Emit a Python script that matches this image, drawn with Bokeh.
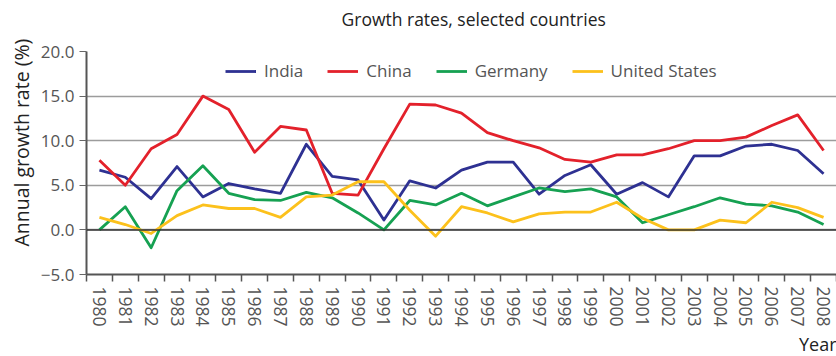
from bokeh.plotting import figure
from bokeh.models import (FixedTicker, CustomJSTickFormatter, Span, Legend, LegendItem,
                          Title, Range1d, BasicTickFormatter)
from bokeh.embed import file_html
from bokeh.resources import INLINE

years = list(range(1980, 2009))

india = [6.7, 5.9, 3.5, 7.1, 3.7, 5.2, 4.6, 4.1, 9.6, 6.0, 5.6, 1.1, 5.5, 4.7, 6.7,
         7.6, 7.6, 4.0, 6.1, 7.3, 4.0, 5.3, 3.7, 8.3, 8.3, 9.4, 9.6, 8.9, 6.3]
china = [7.8, 5.0, 9.1, 10.7, 15.0, 13.5, 8.7, 11.6, 11.2, 4.1, 3.9, 9.1, 14.1, 14.0, 13.1,
         10.9, 10.0, 9.2, 7.9, 7.6, 8.4, 8.4, 9.1, 10.0, 10.0, 10.4, 11.7, 12.9, 8.9]
germany = [0.0, 2.6, -2.0, 4.4, 7.2, 4.1, 3.4, 3.3, 4.2, 3.6, 1.9, 0.0, 3.3, 2.8, 4.1,
           2.7, 3.7, 4.7, 4.3, 4.6, 3.7, 0.8, 1.7, 2.6, 3.6, 2.9, 2.7, 2.0, 0.6]
usa = [1.4, 0.6, -0.4, 1.6, 2.8, 2.4, 2.4, 1.4, 3.7, 3.9, 5.4, 5.4, 2.2, -0.7, 2.6,
       1.9, 0.9, 1.8, 2.0, 2.0, 3.1, 1.3, 0.0, 0.0, 1.1, 0.8, 3.1, 2.5, 1.4]

series_names = ["India", "China", "Germany", "United States"]
series_values = [india, china, germany, usa]
series_colors = ["#2e3192", "#e3212b", "#16a152", "#fcc11c"]

y_ticks = [-5, 0, 5, 10, 15, 20]

FONT = "Open Sans"
GRAY = "#555555"
DARK = "#222222"

p = figure(width=836, height=356, output_backend="svg", toolbar_location=None,
           x_range=Range1d(years[0] - 0.5, years[-1] + 0.5),
           y_range=Range1d(y_ticks[0], y_ticks[-1]),
           min_border_left=86, min_border_right=0, min_border_top=51, min_border_bottom=82)
p.outline_line_color = None
p.background_fill_color = "white"
p.border_fill_color = "white"

p.title.text = "Growth rates, selected countries"
p.title.align = "left"
p.title.offset = 255
p.title.vertical_align = "bottom"
p.title.text_font = FONT
p.title.text_font_size = "17.5px"
p.title.text_font_style = "normal"
p.title.text_color = DARK
p.title.standoff = 0

# blank spacer between the frame and the title
spacer = Title(text=" ", text_font_size="10px", standoff=8)
p.add_layout(spacer, "above")

renderers = []
for name, vals, col in zip(series_names, series_values, series_colors):
    r = p.line(years, vals, line_color=col, line_width=2.8, line_join="round")
    renderers.append((name, r))

# grid
p.xgrid.grid_line_color = None
p.ygrid.ticker = FixedTicker(ticks=y_ticks)
p.ygrid.grid_line_color = "#9c9c9c"
p.ygrid.grid_line_width = 1.5

zero = Span(location=0, dimension="width", line_color="#333333", line_width=1.5)
p.add_layout(zero)

# y axis
ya = p.yaxis[0]
ya.ticker = FixedTicker(ticks=y_ticks)
ya.formatter = CustomJSTickFormatter(code="return (tick < 0 ? '\u2212' : '') + Math.abs(tick).toFixed(1);")
ya.major_label_text_font = FONT
ya.major_label_text_font_size = "17px"
ya.major_label_text_color = GRAY
ya.major_tick_out = 7
ya.major_tick_in = 0
ya.major_label_standoff = 5
ya.minor_tick_line_color = None
ya.axis_line_color = "#555555"
ya.axis_line_width = 2
ya.major_tick_line_color = "#666666"
ya.major_tick_line_width = 1.2

ylabel = Title(text="Annual growth rate (%)", align="left", offset=28,
               text_font=FONT, text_font_size="19.5px", text_font_style="normal",
               text_color=DARK, standoff=5)
p.add_layout(ylabel, "left")

# x axis
xa = p.xaxis[0]
xa.ticker = FixedTicker(ticks=years, minor_ticks=[y - 0.5 for y in years] + [years[-1] + 0.5])
xa.formatter = BasicTickFormatter(use_scientific=False)
xa.major_label_orientation = "vertical"
xa.major_label_text_font = FONT
xa.major_label_text_font_size = "17.5px"
xa.major_label_text_color = GRAY
xa.major_tick_out = 7
xa.major_tick_in = 0
xa.major_tick_line_color = None
xa.major_label_standoff = 5
xa.minor_tick_out = 7
xa.minor_tick_in = 0
xa.minor_tick_line_color = "#555555"
xa.minor_tick_line_width = 1.5
xa.axis_line_color = "#555555"
xa.axis_line_width = 2

year_title = Title(text="Year", align="right", text_font=FONT, text_font_size="18px",
                   text_font_style="normal", text_color=DARK, standoff=0)
p.add_layout(year_title, "below")

legend = Legend(items=[LegendItem(label=n, renderers=[r]) for n, r in renderers],
                orientation="horizontal", location=(139, 192),
                border_line_color=None, background_fill_alpha=0,
                label_text_font=FONT, label_text_font_size="17px", label_text_color=GRAY,
                glyph_width=31, glyph_height=22, label_height=22, label_standoff=8, spacing=24,
                padding=2, margin=0)
p.add_layout(legend, "center")

open("out.html", "w").write(file_html(p, INLINE))
